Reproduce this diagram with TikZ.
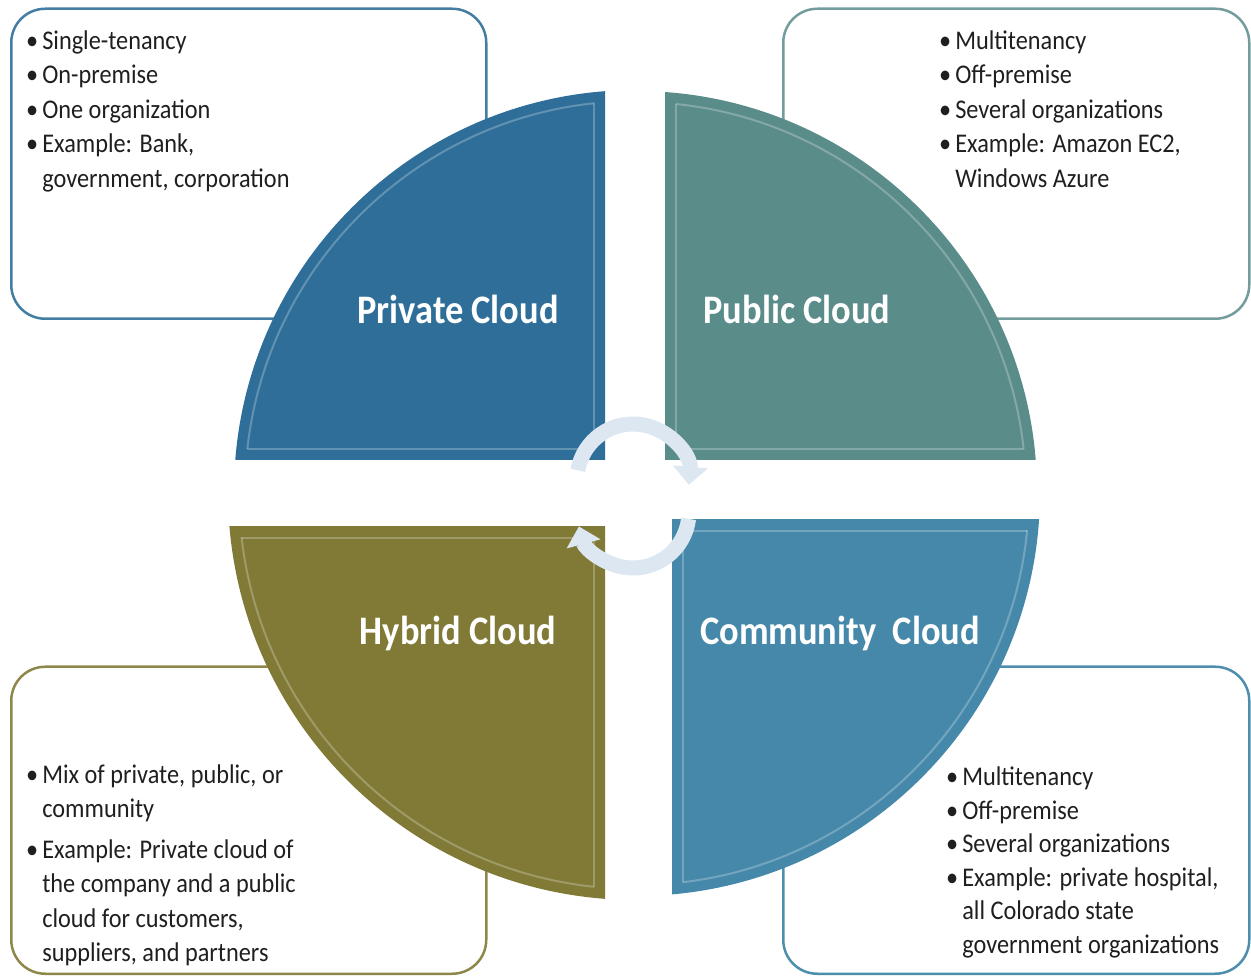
\documentclass[tikz,border=0pt]{standalone}
\usepackage{fontspec}
\newfontfamily\cardfont{Carlito}[FakeStretch=0.90]
\usetikzlibrary{positioning}
\usetikzlibrary{arrows.meta}
\definecolor{privblue}{HTML}{2E6E98}
\definecolor{pubteal}{HTML}{5A8C8A}
\definecolor{hybolive}{HTML}{807A36}
\definecolor{commblue}{HTML}{4588A9}
\definecolor{cycleblue}{HTML}{DCE7F1}
\newcommand{\bl}{\textbullet\hspace{4pt}}
\newcommand{\ind}{\hphantom{\textbullet\hspace{4pt}}}

\begin{document}
\begin{tikzpicture}[x=1pt, y=1pt, font=\cardfont]
    \tikzstyle{card}=[draw, rounded corners=34pt, line width=2.5pt, minimum width=466pt, minimum height=310pt, anchor=south west, inner sep=0pt]
    \tikzstyle{items}=[align=left, anchor=north west, inner sep=0pt, text=black!88, font=\cardfont\fontsize{27}{34.5}\selectfont]
    \tikzstyle{title}=[text=white, font=\cardfont\bfseries\fontsize{40.5}{42}\selectfont]
    \tikzstyle{cycle}=[draw=cycleblue, line width=15pt, -{Triangle[width=34pt, length=18pt]}]

    \useasboundingbox (0,0) rectangle (1251,978);
    \coordinate (hub) at (636,486);

    % description cards (behind the quarters)
    \node[card, draw=privblue!90, minimum width=475pt] (privbox) at (10,658) {};
    \node[card, draw=pubteal!85] (pubbox) at (782,658) {};
    \node[card, draw=hybolive!90, minimum width=475pt, minimum height=307pt] (hybbox) at (10,3) {};
    \node[card, draw=commblue!95, minimum height=307pt] (commbox) at (782,3) {};

    \node[items, below right=23pt and 16pt of privbox.north west] (privtxt) {\bl Single-tenancy\\ \bl On-premise\\ \bl One organization\\ \bl Example: Bank,\\ \ind government, corporation};
    \node[items, below right=23pt and 157pt of pubbox.north west] (pubtxt) {\bl Multitenancy\\ \bl Off-premise\\ \bl Several organizations\\ \bl Example: Amazon EC2,\\ \ind Windows Azure};
    \node[items, below right=99pt and 16pt of hybbox.north west] (hybtxt) {\bl Mix of private, public, or\\ \ind community\\[6pt] \bl Example: Private cloud of\\ \ind the company and a public\\ \ind cloud for customers,\\ \ind suppliers, and partners};
    \node[items, below right=101pt and 164pt of commbox.north west, font=\cardfont\fontsize{27}{33.6}\selectfont] (commtxt) {\bl Multitenancy\\ \bl Off-premise\\ \bl Several organizations\\ \bl Example: private hospital,\\ \ind all Colorado state\\ \ind government organizations};

    % the four quarters of the disc
    \foreach \xa/\ya/\xb/\yb/\rad/\col in {0/518/605/978/402/privblue, 665/518/1251/978/401/pubteal, 0/0/605/451/408/hybolive, 672/0/1251/458/404/commblue}{
        \begin{scope}
            \clip (\xa,\ya) rectangle (\xb,\yb);
            \fill[\col] (hub) circle[radius=\rad];
        \end{scope}
        \begin{scope}
            \clip (\xa+11,\ya+11) rectangle (\xb-11,\yb-11);
            \draw[white, opacity=.25, line width=2pt] (hub) circle[radius=\rad-11];
        \end{scope}
        \begin{scope}
            \clip (hub) circle[radius=\rad-11];
            \draw[white, opacity=.25, line width=2pt] (\xa+11,\ya+11) rectangle (\xb-11,\yb-11);
        \end{scope}
    }

    \node[title] (privname) at (458,669) {Private Cloud};
    \node[title] (pubname) at (797,669) {Public Cloud};
    \node[title] (hybname) at (458,345) {Hybrid Cloud};
    \node[title] (commname) at (840,345) {Community\ \ Cloud};

    % cycle arrows in the middle
    \coordinate (upc) at (633,498);
    \coordinate (lowc) at (633,466);
    \draw[cycle] ([shift={(170:56)}]upc) arc[start angle=170, end angle=-5, radius=56];
    \draw[cycle] ([shift={(-7:56)}]lowc) arc[start angle=-7, end angle=-165, radius=56];
\end{tikzpicture}
\end{document}
